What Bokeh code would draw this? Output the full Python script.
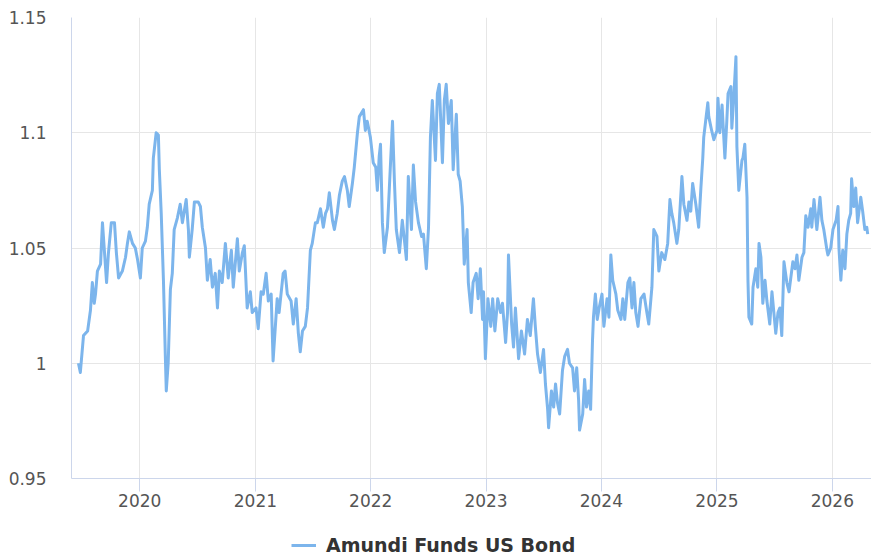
import pandas as pd
from bokeh.plotting import figure
from bokeh.layouts import column
from bokeh.models import ColumnDataSource, FixedTicker, Range1d, Legend, LegendItem
from bokeh.embed import file_html
from bokeh.resources import INLINE

series_name = "Amundi Funds US Bond"

dates = [
    "2019-06-21", "2019-06-27", "2019-07-07", "2019-07-20", "2019-07-29", "2019-08-04", "2019-08-10", "2019-08-14",
    "2019-08-20", "2019-08-30", "2019-09-05", "2019-09-11", "2019-09-18", "2019-09-24", "2019-10-03", "2019-10-13",
    "2019-10-19", "2019-10-26", "2019-11-07", "2019-11-17", "2019-11-23", "2019-11-29", "2019-12-09", "2019-12-18",
    "2019-12-25",
    "2020-01-03", "2020-01-09", "2020-01-19", "2020-01-25", "2020-01-31", "2020-02-10", "2020-02-13", "2020-02-22",
    "2020-02-29", "2020-03-03", "2020-03-09", "2020-03-16", "2020-03-22", "2020-03-25", "2020-03-31", "2020-04-07",
    "2020-04-13", "2020-04-19", "2020-04-29", "2020-05-08", "2020-05-15", "2020-05-27", "2020-06-03", "2020-06-06",
    "2020-06-15", "2020-06-22", "2020-07-04", "2020-07-11", "2020-07-17", "2020-07-27", "2020-08-02", "2020-08-11",
    "2020-08-18", "2020-08-27", "2020-09-03", "2020-09-09", "2020-09-18", "2020-09-28", "2020-10-07", "2020-10-17",
    "2020-10-23", "2020-11-05", "2020-11-11", "2020-11-21", "2020-11-27", "2020-12-06", "2020-12-16", "2020-12-22",
    "2021-01-03", "2021-01-10", "2021-01-19", "2021-01-26", "2021-02-04", "2021-02-11", "2021-02-20", "2021-02-26",
    "2021-03-11", "2021-03-17", "2021-03-30", "2021-04-05", "2021-04-12", "2021-04-24", "2021-05-01", "2021-05-10",
    "2021-05-17", "2021-05-23", "2021-05-30", "2021-06-08", "2021-06-15", "2021-06-24", "2021-06-30", "2021-07-10",
    "2021-07-16", "2021-07-26", "2021-08-04", "2021-08-11", "2021-08-17", "2021-08-23", "2021-09-02", "2021-09-08",
    "2021-09-17", "2021-09-24", "2021-10-03", "2021-10-10", "2021-10-19", "2021-10-25", "2021-11-04", "2021-11-10",
    "2021-11-20", "2021-11-26", "2021-12-09", "2021-12-15", "2021-12-21", "2021-12-31",
    "2022-01-09", "2022-01-17", "2022-01-22", "2022-01-28", "2022-02-01", "2022-02-07", "2022-02-13", "2022-02-23",
    "2022-03-01", "2022-03-11", "2022-03-17", "2022-03-23", "2022-04-02", "2022-04-11", "2022-04-18", "2022-04-24",
    "2022-04-30", "2022-05-10", "2022-05-16", "2022-05-23", "2022-06-01", "2022-06-11", "2022-06-17", "2022-06-26",
    "2022-07-03", "2022-07-09", "2022-07-15", "2022-07-25", "2022-07-31", "2022-08-06", "2022-08-16", "2022-08-22",
    "2022-08-28", "2022-09-04", "2022-09-13", "2022-09-19", "2022-09-29", "2022-10-05", "2022-10-11", "2022-10-18",
    "2022-10-24", "2022-11-02", "2022-11-06", "2022-11-15", "2022-11-21", "2022-12-01", "2022-12-07", "2022-12-14",
    "2022-12-21", "2022-12-24", "2022-12-30",
    "2023-01-07", "2023-01-16", "2023-01-22", "2023-01-29", "2023-02-07", "2023-02-16", "2023-02-22", "2023-03-04",
    "2023-03-10", "2023-03-13", "2023-03-23", "2023-03-29", "2023-04-04", "2023-04-14", "2023-04-23", "2023-05-03",
    "2023-05-12", "2023-05-21", "2023-05-31", "2023-06-06", "2023-06-13", "2023-06-22", "2023-07-02", "2023-07-08",
    "2023-07-15", "2023-07-18", "2023-07-27", "2023-08-03", "2023-08-09", "2023-08-15", "2023-08-22", "2023-08-31",
    "2023-09-07", "2023-09-16", "2023-09-22", "2023-10-02", "2023-10-08", "2023-10-15", "2023-10-21", "2023-10-24",
    "2023-11-03", "2023-11-09", "2023-11-15", "2023-11-22", "2023-11-28", "2023-12-04", "2023-12-07", "2023-12-13",
    "2023-12-19", "2023-12-25",
    "2024-01-03", "2024-01-09", "2024-01-19", "2024-01-25", "2024-01-31", "2024-02-06", "2024-02-16", "2024-02-22",
    "2024-03-03", "2024-03-09", "2024-03-15", "2024-03-25", "2024-03-31", "2024-04-07", "2024-04-13", "2024-04-19",
    "2024-04-26", "2024-05-05", "2024-05-15", "2024-05-24", "2024-05-30", "2024-06-09", "2024-06-15", "2024-06-25",
    "2024-07-01", "2024-07-10", "2024-07-20", "2024-07-29", "2024-08-05", "2024-08-11", "2024-08-17", "2024-08-27",
    "2024-09-02", "2024-09-12", "2024-09-18", "2024-09-28", "2024-10-04", "2024-10-10", "2024-10-16", "2024-10-26",
    "2024-11-04", "2024-11-11", "2024-11-17", "2024-11-20", "2024-11-26", "2024-12-03", "2024-12-06", "2024-12-15",
    "2024-12-22",
    "2025-01-01", "2025-01-04", "2025-01-10", "2025-01-17", "2025-01-26", "2025-02-01", "2025-02-05", "2025-02-14",
    "2025-02-17", "2025-02-23", "2025-03-02", "2025-03-05", "2025-03-11", "2025-03-21", "2025-03-24", "2025-03-30",
    "2025-04-06", "2025-04-09", "2025-04-12", "2025-04-21", "2025-04-25", "2025-05-04", "2025-05-10", "2025-05-14",
    "2025-05-20", "2025-05-26", "2025-06-02", "2025-06-08", "2025-06-17", "2025-06-24", "2025-06-30", "2025-07-06",
    "2025-07-13", "2025-07-19", "2025-07-25", "2025-08-01", "2025-08-10", "2025-08-17", "2025-08-29", "2025-09-05",
    "2025-09-11", "2025-09-17", "2025-09-27", "2025-10-03", "2025-10-09", "2025-10-16", "2025-10-25", "2025-10-28",
    "2025-11-04", "2025-11-13", "2025-11-16", "2025-11-23", "2025-11-29", "2025-12-05", "2025-12-15", "2025-12-18",
    "2025-12-27",
    "2026-01-03", "2026-01-13", "2026-01-19", "2026-01-22", "2026-01-28", "2026-02-03", "2026-02-10", "2026-02-16",
    "2026-02-22", "2026-02-28", "2026-03-03", "2026-03-10", "2026-03-16", "2026-03-22", "2026-04-01", "2026-04-07",
    "2026-04-14", "2026-04-20", "2026-04-23",
]

values = [
    1.000, 0.996, 1.012, 1.014, 1.023, 1.035, 1.026, 1.030,
    1.040, 1.043, 1.061, 1.049, 1.035, 1.048, 1.061, 1.061,
    1.048, 1.037, 1.040, 1.046, 1.052, 1.057, 1.052, 1.050,
    1.045,
    1.037, 1.050, 1.053, 1.059, 1.069, 1.075, 1.089, 1.100,
    1.099, 1.084, 1.065, 1.036, 1.003, 0.988, 1.000, 1.032,
    1.039, 1.058, 1.063, 1.069, 1.061, 1.071, 1.058, 1.046,
    1.058, 1.070, 1.070, 1.068, 1.059, 1.050, 1.036, 1.045,
    1.033, 1.039, 1.024, 1.040, 1.035, 1.052, 1.037, 1.049,
    1.033, 1.054, 1.040, 1.048, 1.051, 1.024, 1.031, 1.022,
    1.024, 1.015, 1.031, 1.030, 1.039, 1.027, 1.030, 1.001,
    1.028, 1.022, 1.039, 1.040, 1.030, 1.027, 1.017, 1.028,
    1.013, 1.005, 1.014, 1.016, 1.024, 1.049, 1.052, 1.061,
    1.061, 1.067, 1.059, 1.065, 1.067, 1.074, 1.062, 1.058,
    1.065, 1.073, 1.079, 1.081, 1.075, 1.068, 1.078, 1.085,
    1.100, 1.107, 1.110, 1.101, 1.105, 1.098,
    1.087, 1.085, 1.075, 1.090, 1.095, 1.061, 1.048, 1.059,
    1.076, 1.105, 1.079, 1.058, 1.048, 1.062, 1.053, 1.045,
    1.081, 1.058, 1.086, 1.070, 1.061, 1.055, 1.056, 1.041,
    1.059, 1.098, 1.114, 1.088, 1.117, 1.121, 1.087, 1.114,
    1.121, 1.104, 1.114, 1.084, 1.108, 1.082, 1.079, 1.068,
    1.043, 1.058, 1.035, 1.022, 1.035, 1.039, 1.028, 1.041,
    1.019, 1.031, 1.002,
    1.028, 1.016, 1.028, 1.014, 1.028, 1.022, 1.026, 1.009,
    1.022, 1.047, 1.017, 1.007, 1.024, 1.002, 1.014, 1.004,
    1.019, 1.012, 1.028, 1.016, 1.004, 0.996, 1.006, 0.991,
    0.980, 0.972, 0.988, 0.981, 0.991, 0.983, 0.978, 0.997,
    1.003, 1.006, 1.000, 0.998, 0.988, 0.998, 0.984, 0.971,
    0.978, 0.993, 0.981, 0.988, 0.980, 1.010, 1.020, 1.030,
    1.019, 1.024,
    1.030, 1.016, 1.028, 1.020, 1.047, 1.036, 1.030, 1.023,
    1.019, 1.028, 1.019, 1.035, 1.037, 1.024, 1.035, 1.022,
    1.016, 1.028, 1.030, 1.022, 1.017, 1.033, 1.058, 1.055,
    1.040, 1.048, 1.045, 1.052, 1.071, 1.065, 1.061, 1.052,
    1.058, 1.081, 1.069, 1.062, 1.070, 1.066, 1.078, 1.069,
    1.059, 1.076, 1.089, 1.098, 1.105, 1.113, 1.107, 1.101,
    1.097,
    1.101, 1.115, 1.100, 1.112, 1.089, 1.105, 1.117, 1.120,
    1.102, 1.115, 1.133, 1.094, 1.075, 1.088, 1.089, 1.095,
    1.072, 1.036, 1.020, 1.017, 1.033, 1.041, 1.033, 1.052,
    1.046, 1.026, 1.036, 1.027, 1.017, 1.031, 1.022, 1.013,
    1.022, 1.024, 1.012, 1.044, 1.035, 1.031, 1.044, 1.041,
    1.047, 1.036, 1.046, 1.048, 1.064, 1.059, 1.067, 1.059,
    1.071, 1.058, 1.062, 1.072, 1.062, 1.058, 1.049, 1.047,
    1.050,
    1.058, 1.062, 1.068, 1.050, 1.036, 1.049, 1.041, 1.056,
    1.062, 1.065, 1.080, 1.068, 1.076, 1.061, 1.072, 1.066,
    1.058, 1.059, 1.056,
]

year_labels = ["2020", "2021", "2022", "2023", "2024", "2025", "2026"]
y_ticks = [0.95, 1.0, 1.05, 1.1, 1.15]
y_tick_labels = ["0.95", "1", "1.05", "1.1", "1.15"]

line_color = "#7cb5ec"

df = pd.DataFrame({"date": pd.to_datetime(dates), "value": values})
src = ColumnDataSource(df)

x_ticks = [pd.Timestamp(f"{y}-01-01").value / 1e6 for y in year_labels]

# ---- main chart ----
p = figure(
    width=871, height=520,
    x_axis_type="datetime",
    output_backend="svg", toolbar_location=None,
    x_range=Range1d(pd.Timestamp("2019-05-30"), pd.Timestamp("2026-05-05")),
    y_range=Range1d(0.95, 1.15),
    min_border_left=71, min_border_right=0, min_border_top=17, min_border_bottom=42,
    background_fill_color="white", border_fill_color="white",
)
p.outline_line_color = None

p.line("date", "value", source=src, line_color=line_color, line_width=3, line_join="round")

p.xaxis.ticker = FixedTicker(ticks=x_ticks)
p.xaxis.major_label_overrides = {t: l for t, l in zip(x_ticks, year_labels)}
p.yaxis.ticker = FixedTicker(ticks=y_ticks)
p.yaxis.major_label_overrides = {t: l for t, l in zip(y_ticks, y_tick_labels)}

for ax in (p.xaxis[0], p.yaxis[0]):
    ax.major_label_text_font = "DejaVu Sans"
    ax.major_label_text_font_size = "17px"
    ax.major_label_text_color = "#555555"
    ax.axis_line_color = "#ccd6eb"
    ax.axis_line_width = 1
    ax.minor_tick_line_color = None
    ax.major_tick_in = 0

p.yaxis.major_tick_out = 0
p.yaxis.major_tick_line_color = None
p.yaxis.major_label_standoff = 25
p.xaxis.major_tick_out = 13
p.xaxis.major_tick_line_color = "#ccd6eb"
p.xaxis.major_label_standoff = 2

p.xgrid.grid_line_color = "#e6e6e6"
p.ygrid.grid_line_color = "#e6e6e6"

# ---- legend strip below the chart ----
lg = figure(
    width=871, height=36,
    output_backend="svg", toolbar_location=None,
    x_range=Range1d(0, 1), y_range=Range1d(0, 1),
    x_axis_location=None, y_axis_location=None,
    min_border=0, min_border_left=0, min_border_right=0, min_border_top=0, min_border_bottom=0,
    background_fill_color="white", border_fill_color="white",
)
lg.outline_line_color = None
lg.grid.visible = False
# key-only renderer (draws nothing itself; supplies the legend swatch style)
key_r = lg.line(x=[float("nan")], y=[float("nan")], line_color=line_color, line_width=3)

legend = Legend(
    items=[LegendItem(label=series_name, renderers=[key_r])],
    location=(220, 0),
    orientation="horizontal",
    border_line_color=None, background_fill_alpha=0.0,
    padding=0, margin=0, spacing=0,
    glyph_width=25, glyph_height=22, label_height=22, label_standoff=10,
    label_text_font="DejaVu Sans", label_text_font_style="bold",
    label_text_font_size="19px", label_text_color="#333333",
)
lg.add_layout(legend, "center")

layout = column(p, lg, spacing=0)

open("out.html", "w").write(file_html(layout, INLINE))
